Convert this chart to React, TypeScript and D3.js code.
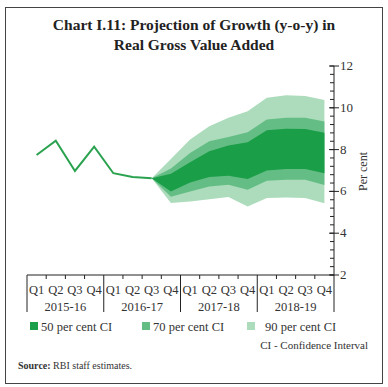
import React from "react";
import * as d3 from "d3";

const years = ["2015-16", "2016-17", "2017-18", "2018-19"];
const quarters = ["Q1", "Q2", "Q3", "Q4"];
const actualValues = [7.74, 8.43, 6.98, 8.14, 6.87, 6.69, 6.63];
// projection starts at Q3 2016-17 (index 6)
const fanStart = 6;
const upper90 = [6.63, 7.55, 8.48, 9.12, 9.52, 9.84, 10.48, 10.6, 10.56, 10.37];
const upper70 = [6.63, 7.1, 7.84, 8.4, 8.6, 8.83, 9.44, 9.52, 9.52, 9.34];
const upper50 = [6.63, 6.85, 7.39, 7.92, 8.2, 8.35, 8.93, 9.0, 8.99, 8.81];
const lower50 = [6.63, 6.0, 6.43, 6.69, 6.75, 6.59, 7.0, 7.07, 7.07, 6.87];
const lower70 = [6.63, 5.75, 6.0, 6.24, 6.32, 6.08, 6.51, 6.56, 6.56, 6.31];
const lower90 = [6.63, 5.45, 5.52, 5.63, 5.73, 5.28, 5.68, 5.71, 5.68, 5.43];
const yTicks = [2, 4, 6, 8, 10, 12];
const legendLabels = ["50 per cent CI", "70 per cent CI", "90 per cent CI"];

const C_DARK = "#1b9e48";
const C_MED = "#64bd85";
const C_LIGHT = "#acdcbb";
const C_LINE = "#2ba24f";
const FONT = "'Liberation Serif', 'DejaVu Serif', serif";

export default function App() {
  const left = 27, right = 334, top = 66, bottom = 275;
  const cats: string[] = [];
  years.forEach((y) => quarters.forEach((q) => cats.push(y + q)));
  const x = d3.scaleBand().domain(cats).range([left, right]);
  const cx = (i: number) => (x(cats[i]) as number) + x.bandwidth() / 2;
  const y = d3.scaleLinear().domain([2, 12]).range([bottom, top]);

  const line = d3.line<number>().x((_, i) => cx(i)).y((d) => y(d));
  const band = (lo: number[], hi: number[]) =>
    d3
      .area<number>()
      .x((_, i) => cx(i + fanStart))
      .y0((_, i) => y(lo[i]))
      .y1((d) => y(d))(hi) as string;

  const minor = d3.range(2, 12.001, 0.4);
  const colors = [C_DARK, C_MED, C_LIGHT];
  const legendX = [30, 142, 247];

  return (
    <svg width={388} height={387} style={{ position: "absolute", left: 0, top: 0, background: "#fff" }} fontFamily={FONT}>
      <rect x={5.5} y={7.5} width={377} height={376} fill="#fff" stroke="#444" strokeWidth={1} />
      <text x={194} y={30} textAnchor="middle" fontSize={15.5} fontWeight="bold" fill="#222">
        Chart I.11: Projection of Growth (y-o-y) in
      </text>
      <text x={194} y={50} textAnchor="middle" fontSize={15.5} fontWeight="bold" fill="#222">
        Real Gross Value Added
      </text>

      <path d={band(lower90, upper90)} fill={C_LIGHT} />
      <path d={band(lower70, upper70)} fill={C_MED} />
      <path d={band(lower50, upper50)} fill={C_DARK} />
      <path d={line(actualValues) as string} fill="none" stroke={C_LINE} strokeWidth={2} />

      {/* y axis */}
      <line x1={right} x2={right} y1={top} y2={bottom} stroke="#222" />
      {minor.map((v, i) => (
        <line key={"m" + i} x1={right - 4} x2={right} y1={y(v)} y2={y(v)} stroke="#222" />
      ))}
      {yTicks.map((v) => (
        <g key={v}>
          <line x1={right - 5} x2={right + 5} y1={y(v)} y2={y(v)} stroke="#222" />
          <text x={right + 6} y={y(v) + 4} fontSize={13} fill="#333">
            {v}
          </text>
        </g>
      ))}
      <text transform={`translate(367,${(top + bottom) / 2 + 1}) rotate(-90)`} textAnchor="middle" fontSize={12} fill="#333">
        Per cent
      </text>

      {/* x axis */}
      <line x1={left} x2={right} y1={bottom} y2={bottom} stroke="#222" />
      {cats.map((c, i) => (
        <g key={c}>
          {i % 4 !== 0 && (
            <line x1={x(c) as number} x2={x(c) as number} y1={bottom} y2={bottom + 4} stroke="#222" />
          )}
          <text x={cx(i)} y={294} textAnchor="middle" fontSize={12.5} fill="#333">
            {quarters[i % 4]}
          </text>
        </g>
      ))}
      {d3.range(0, 17, 4).map((k) => {
        const xx = k < 16 ? (x(cats[k]) as number) : right;
        return <line key={"s" + k} x1={xx} x2={xx} y1={bottom} y2={312} stroke="#222" />;
      })}
      {years.map((yr, i) => (
        <text key={yr} x={(cx(i * 4 + 1) + cx(i * 4 + 2)) / 2} y={311} textAnchor="middle" fontSize={12.5} fill="#333">
          {yr}
        </text>
      ))}

      {/* legend */}
      {legendLabels.map((l, i) => (
        <g key={l}>
          <rect x={legendX[i]} y={322} width={8} height={8} fill={colors[i]} />
          <text x={legendX[i] + (i === 2 ? 18 : 11)} y={331} fontSize={12.5} fill="#333">
            {l}
          </text>
        </g>
      ))}
      <text x={368} y={349} textAnchor="end" fontSize={11} fill="#333">
        CI - Confidence Interval
      </text>
      <text x={18} y={369} fontSize={10} fill="#333">
        <tspan fontWeight="bold">Source:</tspan> RBI staff estimates.
      </text>
    </svg>
  );
}
